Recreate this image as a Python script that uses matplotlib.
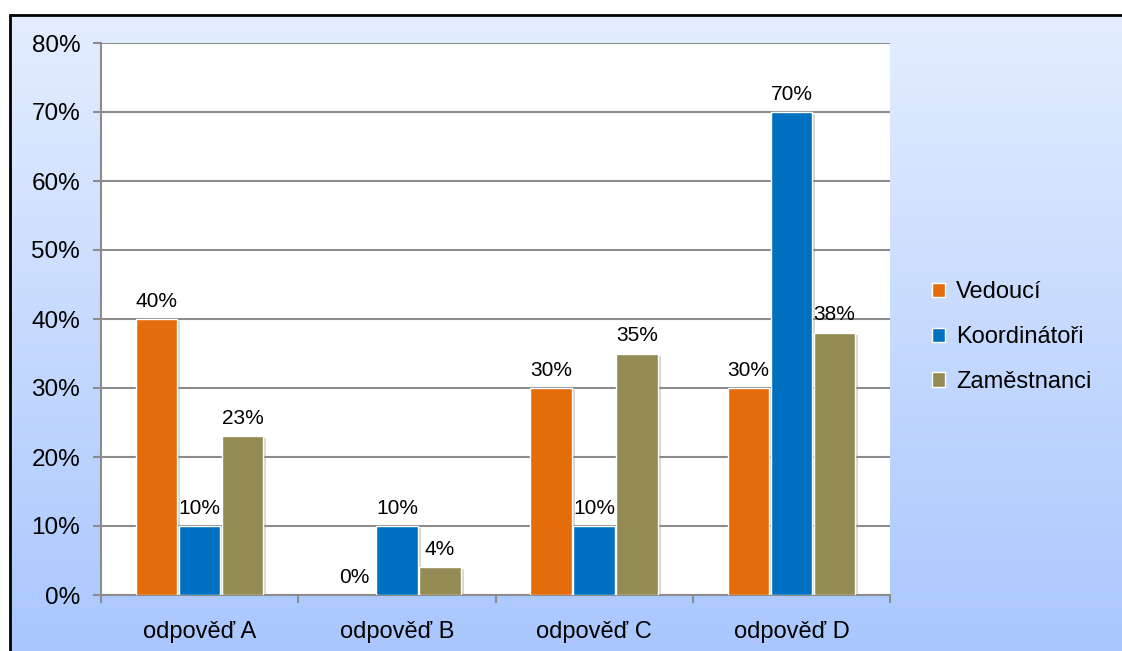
import numpy as np
import matplotlib
matplotlib.use("Agg")
import matplotlib.pyplot as plt
import matplotlib.patheffects as pe
from matplotlib.colors import LinearSegmentedColormap

categories = ["odpověď A", "odpověď B", "odpověď C", "odpověď D"]
series_names = ["Vedoucí", "Koordinátoři", "Zaměstnanci"]
vedouci = [40, 0, 30, 30]
koordinatori = [10, 10, 10, 70]
zamestnanci = [23, 4, 35, 38]
y_ticks = [0, 10, 20, 30, 40, 50, 60, 70, 80]

series = [vedouci, koordinatori, zamestnanci]
colors = ["#E46C0A", "#0070C0", "#948A54"]

plt.rcParams["font.family"] = ["Liberation Sans", "DejaVu Sans"]

W, H = 1122, 651
fig = plt.figure(figsize=(W / 100, H / 100), dpi=100)
fig.patch.set_facecolor("white")

# background panel with vertical gradient and black frame on top/left
bg = fig.add_axes([0, 0, 1, 1], zorder=-10)
bg.set_xlim(0, W)
bg.set_ylim(H, 0)
bg.axis("off")
grad = np.linspace(0, 1, 256).reshape(-1, 1)
cmap = LinearSegmentedColormap.from_list("bg", ["#E4EDFF", "#A9C7FE"])
bg.imshow(grad, cmap=cmap, aspect="auto", extent=[10, W, H, 15], interpolation="bicubic")
bg.plot([9.5, W], [15, 15], color="black", lw=2.0, solid_capstyle="butt")
bg.plot([10, 10], [14, H], color="black", lw=2.0, solid_capstyle="butt")

ax = fig.add_axes([101 / W, 1 - 595 / H, (890 - 101) / W, (595 - 43) / H])
ax.set_facecolor("white")

x = np.arange(len(categories))
bw = 0.218
offsets = [-bw, 0, bw]
shadow = [pe.SimplePatchShadow(offset=(2, -1.5), shadow_rgbFace="#888888", alpha=0.35), pe.Normal()]
for vals, col, off, name in zip(series, colors, offsets, series_names):
    bars = ax.bar(x + off, vals, width=bw * 0.97, color=col, edgecolor="white",
                  linewidth=1.0, label=name, zorder=3)
    for b, v in zip(bars, vals):
        if v > 0:
            b.set_path_effects(shadow)
        else:
            b.set_edgecolor("none")
    for xi, v in zip(x + off, vals):
        ax.annotate(f"{v}%", (xi, v), xytext=(0, 6), textcoords="offset points",
                    ha="center", va="bottom", fontsize=15, color="black", zorder=4)

ax.set_xlim(-0.5, len(categories) - 0.5)
ax.set_ylim(0, 80)
ax.set_yticks(y_ticks)
ax.set_yticklabels([f"{t}%" for t in y_ticks], fontsize=17.5)
ax.yaxis.grid(True, color="#8C8C8C", lw=1.5, zorder=1)
ax.set_axisbelow(True)

ax.set_xticks(x)
ax.set_xticklabels(categories, fontsize=17)
ax.tick_params(axis="x", length=0, pad=19)
ax.set_xticks(np.arange(len(categories) + 1) - 0.5, minor=True)
ax.tick_params(axis="x", which="minor", length=6, width=1.5, color="#8C8C8C")
ax.tick_params(axis="y", length=6, width=1.5, color="#8C8C8C", pad=9)

for s in ["top", "right"]:
    ax.spines[s].set_visible(False)
for s in ["left", "bottom"]:
    ax.spines[s].set_color("#8C8C8C")
    ax.spines[s].set_linewidth(1.5)

handles, labels = ax.get_legend_handles_labels()
leg = fig.legend(handles, labels, loc="center left", bbox_to_anchor=(911 / W, 1 - 337 / H),
                 frameon=False, fontsize=17, handlelength=0.55, handleheight=0.55,
                 handletextpad=0.45, labelspacing=0.97)
for h in leg.legend_handles:
    h.set_path_effects([])

fig.savefig("out.png", dpi=100, facecolor=fig.get_facecolor())
